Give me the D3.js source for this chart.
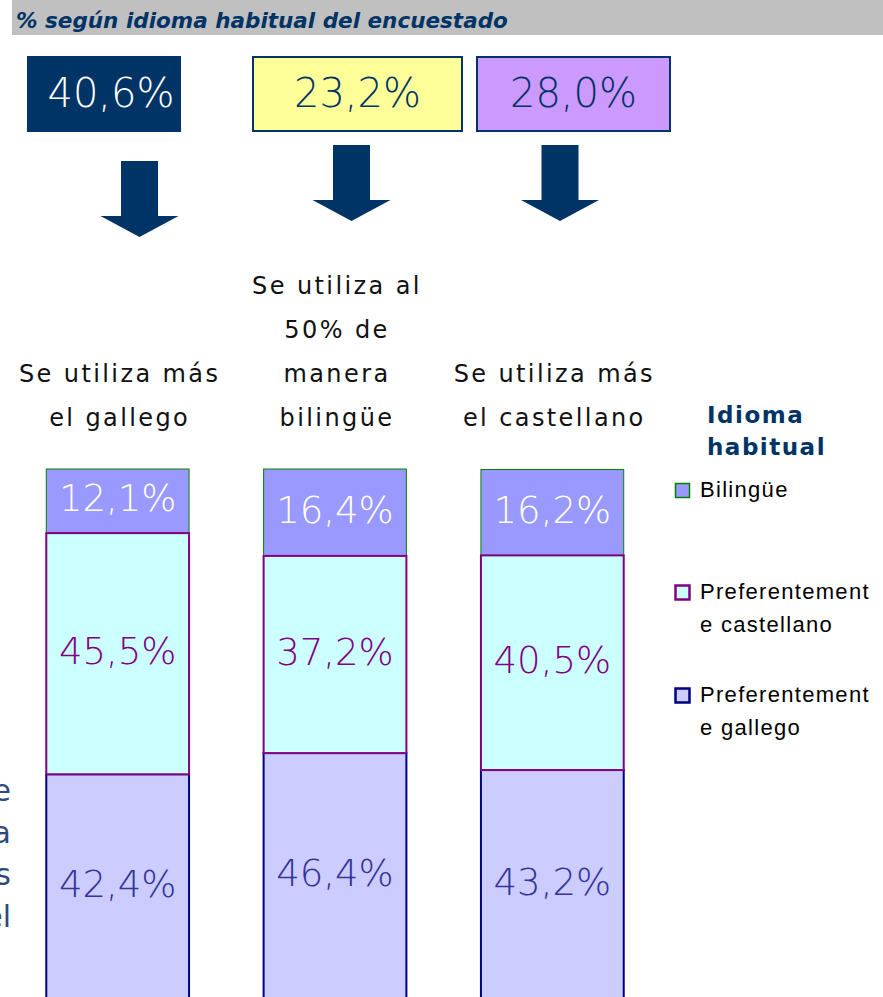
<!DOCTYPE html>
<html>
<head>
<meta charset="utf-8">
<script src="https://cdn.jsdelivr.net/npm/d3@7"></script>
<style>
body { margin: 0; background: #fff; }
</style>
</head>
<body>
<div id="chart"></div>
<script>
// Data
var categories = ["gallego", "bilingue", "castellano"];
var categoryLines = [
    ["Se utiliza más", "el gallego"],
    ["Se utiliza al", "50% de", "manera", "bilingüe"],
    ["Se utiliza más", "el castellano"]
];
var headlineValues = [40.6, 23.2, 28.0];
var seriesNames = ["Preferentemente gallego", "Preferentemente castellano", "Bilingüe"];
var gallegoValues    = [42.4, 46.4, 43.2];
var castellanoValues = [45.5, 37.2, 40.5];
var bilingueValues   = [12.1, 16.4, 16.2];
var leftNote = ["e", "a", "s", "el"];

// Width and height
var chart_width  = 883;
var chart_height = 997;

var fmt = function(v){ return v.toFixed(1).replace(".", ",") + "%"; };

var svg = d3.select("#chart")
    .append("svg")
    .attr("width", chart_width)
    .attr("height", chart_height)
    .style("display", "block");

// title bar
svg.append("rect")
    .attr("x", 12).attr("y", 0)
    .attr("width", chart_width - 12).attr("height", 35)
    .attr("fill", "#c0c0c0");
svg.append("text")
    .attr("x", 16).attr("y", 28)
    .attr("font-family", "DejaVu Sans, Verdana, sans-serif")
    .attr("font-size", 21.5)
    .attr("font-weight", "bold")
    .attr("font-style", "italic")
    .attr("fill", "#003366")
    .text("% según idioma habitual del encuestado");

// headline boxes
var boxX = [28, 253, 477];
var boxW = [152, 209, 193];
var boxTextShift = [7, 0, 0];
var boxFill = ["#003366", "#ffff99", "#cc99ff"];
var boxText = ["#ffffff", "#003366", "#003366"];

var boxes = svg.selectAll("g.box")
    .data(headlineValues)
    .enter()
    .append("g")
    .attr("class", "box");
boxes.append("rect")
    .attr("x", function(d, i){ return boxX[i]; })
    .attr("y", 57)
    .attr("width", function(d, i){ return boxW[i]; })
    .attr("height", 74)
    .attr("fill", function(d, i){ return boxFill[i]; })
    .attr("stroke", "#003366")
    .attr("stroke-width", 2);
boxes.append("text")
    .attr("x", function(d, i){ return boxX[i] + boxW[i] / 2 + boxTextShift[i]; })
    .attr("y", 107)
    .attr("text-anchor", "middle")
    .attr("font-family", "DejaVu Sans, sans-serif")
    .attr("font-weight", 300)
    .attr("font-size", 40)
    .attr("fill", function(d, i){ return boxText[i]; })
    .text(function(d){ return fmt(d); });

// arrows
var arrowCx = [139.5, 351.5, 560];
var arrowTop = [161, 145, 145];
svg.selectAll("path.arrow")
    .data(arrowCx)
    .enter()
    .append("path")
    .attr("class", "arrow")
    .attr("fill", "#003366")
    .attr("d", function(cx, i){
        var t = arrowTop[i];
        return "M" + (cx - 18.5) + "," + t +
            "H" + (cx + 18.5) + "V" + (t + 55) +
            "H" + (cx + 39) + "L" + cx + "," + (t + 76) +
            "L" + (cx - 39) + "," + (t + 55) +
            "H" + (cx - 18.5) + "Z";
    });

// scales
var x = d3.scaleBand()
    .domain(categories)
    .range([9, 661])
    .paddingInner(0.343)
    .paddingOuter(0.1715);

var y = d3.scaleLinear()
    .domain([0, 100])
    .range([999, 469]);

// category labels
var catLabels = svg.selectAll("text.cat")
    .data(categories)
    .enter()
    .append("text")
    .attr("class", "cat")
    .attr("text-anchor", "middle")
    .attr("font-family", "DejaVu Sans, Verdana, sans-serif")
    .attr("font-size", 24)
    .attr("letter-spacing", 2.4)
    .attr("fill", "#111");
catLabels.each(function(c, i){
    var lines = categoryLines[i];
    var cx = x(c) + x.bandwidth() / 2 + 2;
    d3.select(this).selectAll("tspan")
        .data(lines)
        .enter()
        .append("tspan")
        .attr("x", cx)
        .attr("y", function(d, j){ return 426 - (lines.length - 1 - j) * 44; })
        .text(function(d){ return d; });
});

// stacked bars
var table = categories.map(function(c, i){
    return { cat: c, gallego: gallegoValues[i], castellano: castellanoValues[i], bilingue: bilingueValues[i] };
});
var stack = d3.stack().keys(["gallego", "castellano", "bilingue"]);
var series = stack(table);

var styles = {
    gallego:    { fill: "#ccccff", stroke: "#000080", sw: 2, text: "#333399" },
    castellano: { fill: "#ccffff", stroke: "#800080", sw: 2, text: "#800080" },
    bilingue:   { fill: "#9999ff", stroke: "#008000", sw: 1, text: "#ffffff" }
};
// drawing order so the purple borders sit on top
var order = ["gallego", "bilingue", "castellano"];
order.forEach(function(key){
    var s = series.filter(function(d){ return d.key === key; })[0];
    svg.selectAll("rect.seg-" + key)
        .data(s)
        .enter()
        .append("rect")
        .attr("class", "seg-" + key)
        .attr("x", function(d){ return x(d.data.cat); })
        .attr("y", function(d){ return y(d[1]); })
        .attr("width", x.bandwidth())
        .attr("height", function(d){ return y(d[0]) - y(d[1]); })
        .attr("fill", styles[key].fill)
        .attr("stroke", styles[key].stroke)
        .attr("stroke-width", styles[key].sw);
});
series.forEach(function(s){
    svg.selectAll("text.lab-" + s.key)
        .data(s)
        .enter()
        .append("text")
        .attr("class", "lab-" + s.key)
        .attr("x", function(d){ return x(d.data.cat) + x.bandwidth() / 2; })
        .attr("y", function(d){ return (y(d[0]) + y(d[1])) / 2 - 3; })
        .attr("dy", "0.36em")
        .attr("text-anchor", "middle")
        .attr("font-family", "DejaVu Sans, sans-serif")
        .attr("font-weight", 300)
        .attr("font-size", 37)
        .attr("fill", styles[s.key].text)
        .text(function(d){ return fmt(d.data[s.key]); });
});

// legend
var legend = svg.append("g");
legend.append("text")
    .attr("font-family", "DejaVu Sans, Verdana, sans-serif")
    .attr("font-size", 23)
    .attr("font-weight", "bold")
    .attr("letter-spacing", 1.5)
    .attr("fill", "#003366")
    .selectAll("tspan")
    .data(["Idioma", "habitual"])
    .enter()
    .append("tspan")
    .attr("x", 707)
    .attr("y", function(d, i){ return 423 + i * 32; })
    .text(function(d){ return d; });

var legendItems = [
    { key: "bilingue", lines: ["Bilingüe"], y: 483 },
    { key: "castellano", lines: ["Preferentement", "e castellano"], y: 585 },
    { key: "gallego", lines: ["Preferentement", "e gallego"], y: 688 }
];
var li = legend.selectAll("g.item")
    .data(legendItems)
    .enter()
    .append("g")
    .attr("class", "item");
li.append("rect")
    .attr("x", 675.5)
    .attr("y", function(d){ return d.y + 0.5; })
    .attr("width", 14)
    .attr("height", 14)
    .attr("fill", function(d){ return styles[d.key].fill; })
    .attr("stroke", function(d){ return styles[d.key].stroke; })
    .attr("stroke-width", function(d){ return styles[d.key].sw + 0.5; });
li.append("text")
    .attr("font-family", "'Liberation Sans', Arial, sans-serif")
    .attr("font-size", 22)
    .attr("letter-spacing", 1.3)
    .attr("fill", "#000")
    .each(function(d){
        d3.select(this).selectAll("tspan")
            .data(d.lines)
            .enter()
            .append("tspan")
            .attr("x", 700)
            .attr("y", function(t, j){ return d.y + 14 + j * 33; })
            .text(function(t){ return t; });
    });

// cut-off note at the left edge, as in the source
svg.append("text")
    .attr("font-family", "DejaVu Sans, Verdana, sans-serif")
    .attr("font-size", 30)
    .attr("fill", "#2e4a7a")
    .attr("text-anchor", "end")
    .selectAll("tspan")
    .data(leftNote)
    .enter()
    .append("tspan")
    .attr("x", 11)
    .attr("y", function(d, i){ return 801 + i * 42; })
    .text(function(d){ return d; });
</script>
</body>
</html>
